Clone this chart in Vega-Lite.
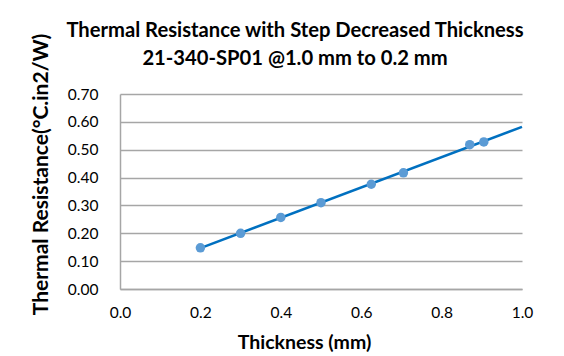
{
  "$schema": "https://vega.github.io/schema/vega-lite/v6.json",
  "width": 402,
  "height": 195,
  "autosize": "none",
  "padding": {"left": 120, "top": 94, "right": 42, "bottom": 67},
  "background": "white",
  "title": {
    "text": ["Thermal Resistance with Step Decreased Thickness", "21-340-SP01 @1.0 mm to 0.2 mm"],
    "font": "Lato",
    "fontSize": 20.2,
    "fontWeight": "bold",
    "color": "black",
    "anchor": "middle",
    "frame": "group",
    "dx": -26,
    "offset": -36,
    "lineHeight": 28
  },
  "config": {"view": {"stroke": null}},
  "data": {
    "values": [
      {"thickness": 0.2, "resistance": 0.148},
      {"thickness": 0.3, "resistance": 0.200},
      {"thickness": 0.4, "resistance": 0.257},
      {"thickness": 0.5, "resistance": 0.310},
      {"thickness": 0.625, "resistance": 0.376},
      {"thickness": 0.705, "resistance": 0.417},
      {"thickness": 0.87, "resistance": 0.518},
      {"thickness": 0.905, "resistance": 0.528}
    ]
  },
  "encoding": {
    "x": {
      "field": "thickness",
      "type": "quantitative",
      "scale": {"domain": [0, 1], "nice": false, "zero": false},
      "axis": {
        "title": "Thickness (mm)",
        "values": [0, 0.2, 0.4, 0.6, 0.8, 1.0],
        "format": ".1f",
        "grid": false,
        "ticks": false,
        "domain": true,
        "domainColor": "#a6a6a6",
        "domainWidth": 1.5,
        "labelFlush": false,
        "labelPadding": 16,
        "labelFont": "Lato",
        "labelFontSize": 15.5,
        "labelColor": "black",
        "titleFont": "Lato",
        "titleFontSize": 19.5,
        "titleFontWeight": "bold",
        "titleColor": "black",
        "titleX": 184,
        "titleY": 53,
        "titleAlign": "center",
        "titleBaseline": "middle"
      }
    },
    "y": {
      "field": "resistance",
      "type": "quantitative",
      "scale": {"domain": [0, 0.7], "nice": false},
      "axis": {
        "title": "Thermal Resistance(°C.in2/W)",
        "values": [0, 0.1, 0.2, 0.3, 0.4, 0.5, 0.6, 0.7],
        "format": ".2f",
        "grid": true,
        "gridColor": "#a6a6a6",
        "gridWidth": 1.5,
        "ticks": false,
        "domain": true,
        "domainColor": "#a6a6a6",
        "domainWidth": 1.5,
        "labelPadding": 22,
        "labelFont": "Lato",
        "labelFontSize": 15.5,
        "labelColor": "black",
        "titleFont": "Lato",
        "titleFontSize": 21,
        "titleFontWeight": "bold",
        "titleColor": "black",
        "titleX": -79,
        "titleY": 80,
        "titleAngle": -90,
        "titleAlign": "center",
        "titleBaseline": "middle"
      }
    }
  },
  "layer": [
    {
      "transform": [{"regression": "resistance", "on": "thickness", "extent": [0.2, 1.0]}],
      "mark": {"type": "line", "color": "#0070C0", "strokeWidth": 2.5}
    },
    {
      "mark": {"type": "circle", "size": 90, "color": "#5B9BD5", "opacity": 1}
    }
  ]
}
